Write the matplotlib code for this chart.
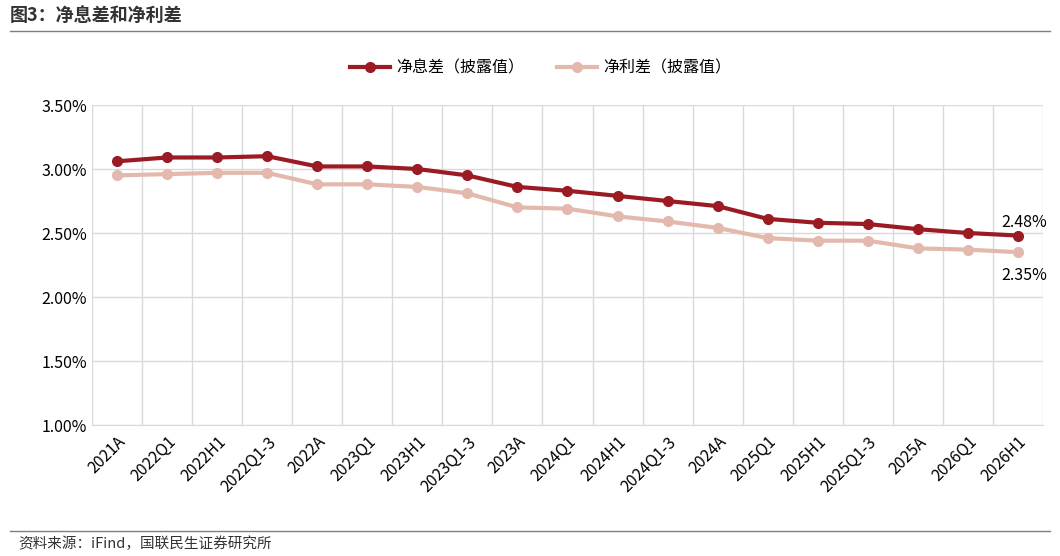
import matplotlib
matplotlib.use("Agg")
import matplotlib.pyplot as plt
from matplotlib.ticker import FuncFormatter, MultipleLocator
import numpy as np

plt.rcParams['font.family'] = ['Noto Sans CJK SC', 'DejaVu Sans']

categories = ["2021A","2022Q1","2022H1","2022Q1-3","2022A","2023Q1","2023H1","2023Q1-3","2023A",
              "2024Q1","2024H1","2024Q1-3","2024A","2025Q1","2025H1","2025Q1-3","2025A","2026Q1","2026H1"]
nim = [3.06,3.09,3.09,3.10,3.02,3.02,3.00,2.95,2.86,2.83,2.79,2.75,2.71,2.61,2.58,2.57,2.53,2.50,2.48]
spread = [2.95,2.96,2.97,2.97,2.88,2.88,2.86,2.81,2.70,2.69,2.63,2.59,2.54,2.46,2.44,2.44,2.38,2.37,2.35]

fig = plt.figure(figsize=(10.6,5.56), dpi=100)
ax = fig.add_axes([92/1060, 1-425/556, (1043-92)/1060, (425-105)/556])
x = np.arange(len(categories))
ax.plot(x, nim, color='#9B1B24', lw=3, marker='o', ms=7, label='净息差（披露值）', zorder=3)
ax.plot(x, spread, color='#E2B9AC', lw=3, marker='o', ms=7, label='净利差（披露值）', zorder=3)
ax.set_ylim(1.0, 3.5)
ax.set_xlim(-0.5, len(categories)-0.5)
ax.yaxis.set_major_locator(MultipleLocator(0.5))
ax.yaxis.set_major_formatter(FuncFormatter(lambda v, p: f"{v:.2f}%"))
ax.set_xticks(x)
ax.set_xticklabels(categories, rotation=45, ha='right', rotation_mode='anchor', fontsize=11.5)
ax.set_xticks(np.arange(-0.5, len(categories), 1), minor=True)
ax.tick_params(axis='x', which='both', length=0, pad=6)
ax.tick_params(axis='y', length=0, labelsize=11.5)
ax.grid(True, axis='y', color='#D9D9D9', lw=1)
ax.grid(True, axis='x', which='minor', color='#D9D9D9', lw=1)
for s in ['top','right','left']:
    ax.spines[s].set_visible(False)
ax.spines['bottom'].set_color('#D9D9D9')
ax.annotate(f"{nim[-1]:.2f}%", (x[-1], nim[-1]), xytext=(-12, 6), textcoords='offset points', fontsize=11.5)
ax.annotate(f"{spread[-1]:.2f}%", (x[-1], spread[-1]), xytext=(-12, -20), textcoords='offset points', fontsize=11.5)
fig.legend(loc='center', bbox_to_anchor=(0.51, 1-68/556), ncol=2, frameon=False, fontsize=11.5,
           handlelength=2.5, handletextpad=0.4, columnspacing=2.0)

fig.text(10/1060, 1-15/556, "图3：净息差和净利差", fontsize=13, fontweight='bold', color='#333333', va='center')
fig.add_artist(plt.Line2D([10/1060, 1050/1060], [1-31/556]*2, color='#7F7F7F', lw=1))
fig.add_artist(plt.Line2D([10/1060, 1050/1060], [1-531/556]*2, color='#7F7F7F', lw=1))
fig.text(18/1060, 1-544/556, "资料来源：iFind，国联民生证券研究所", fontsize=10.5, color='#333333', va='center')
fig.savefig("out.png", dpi=100)
